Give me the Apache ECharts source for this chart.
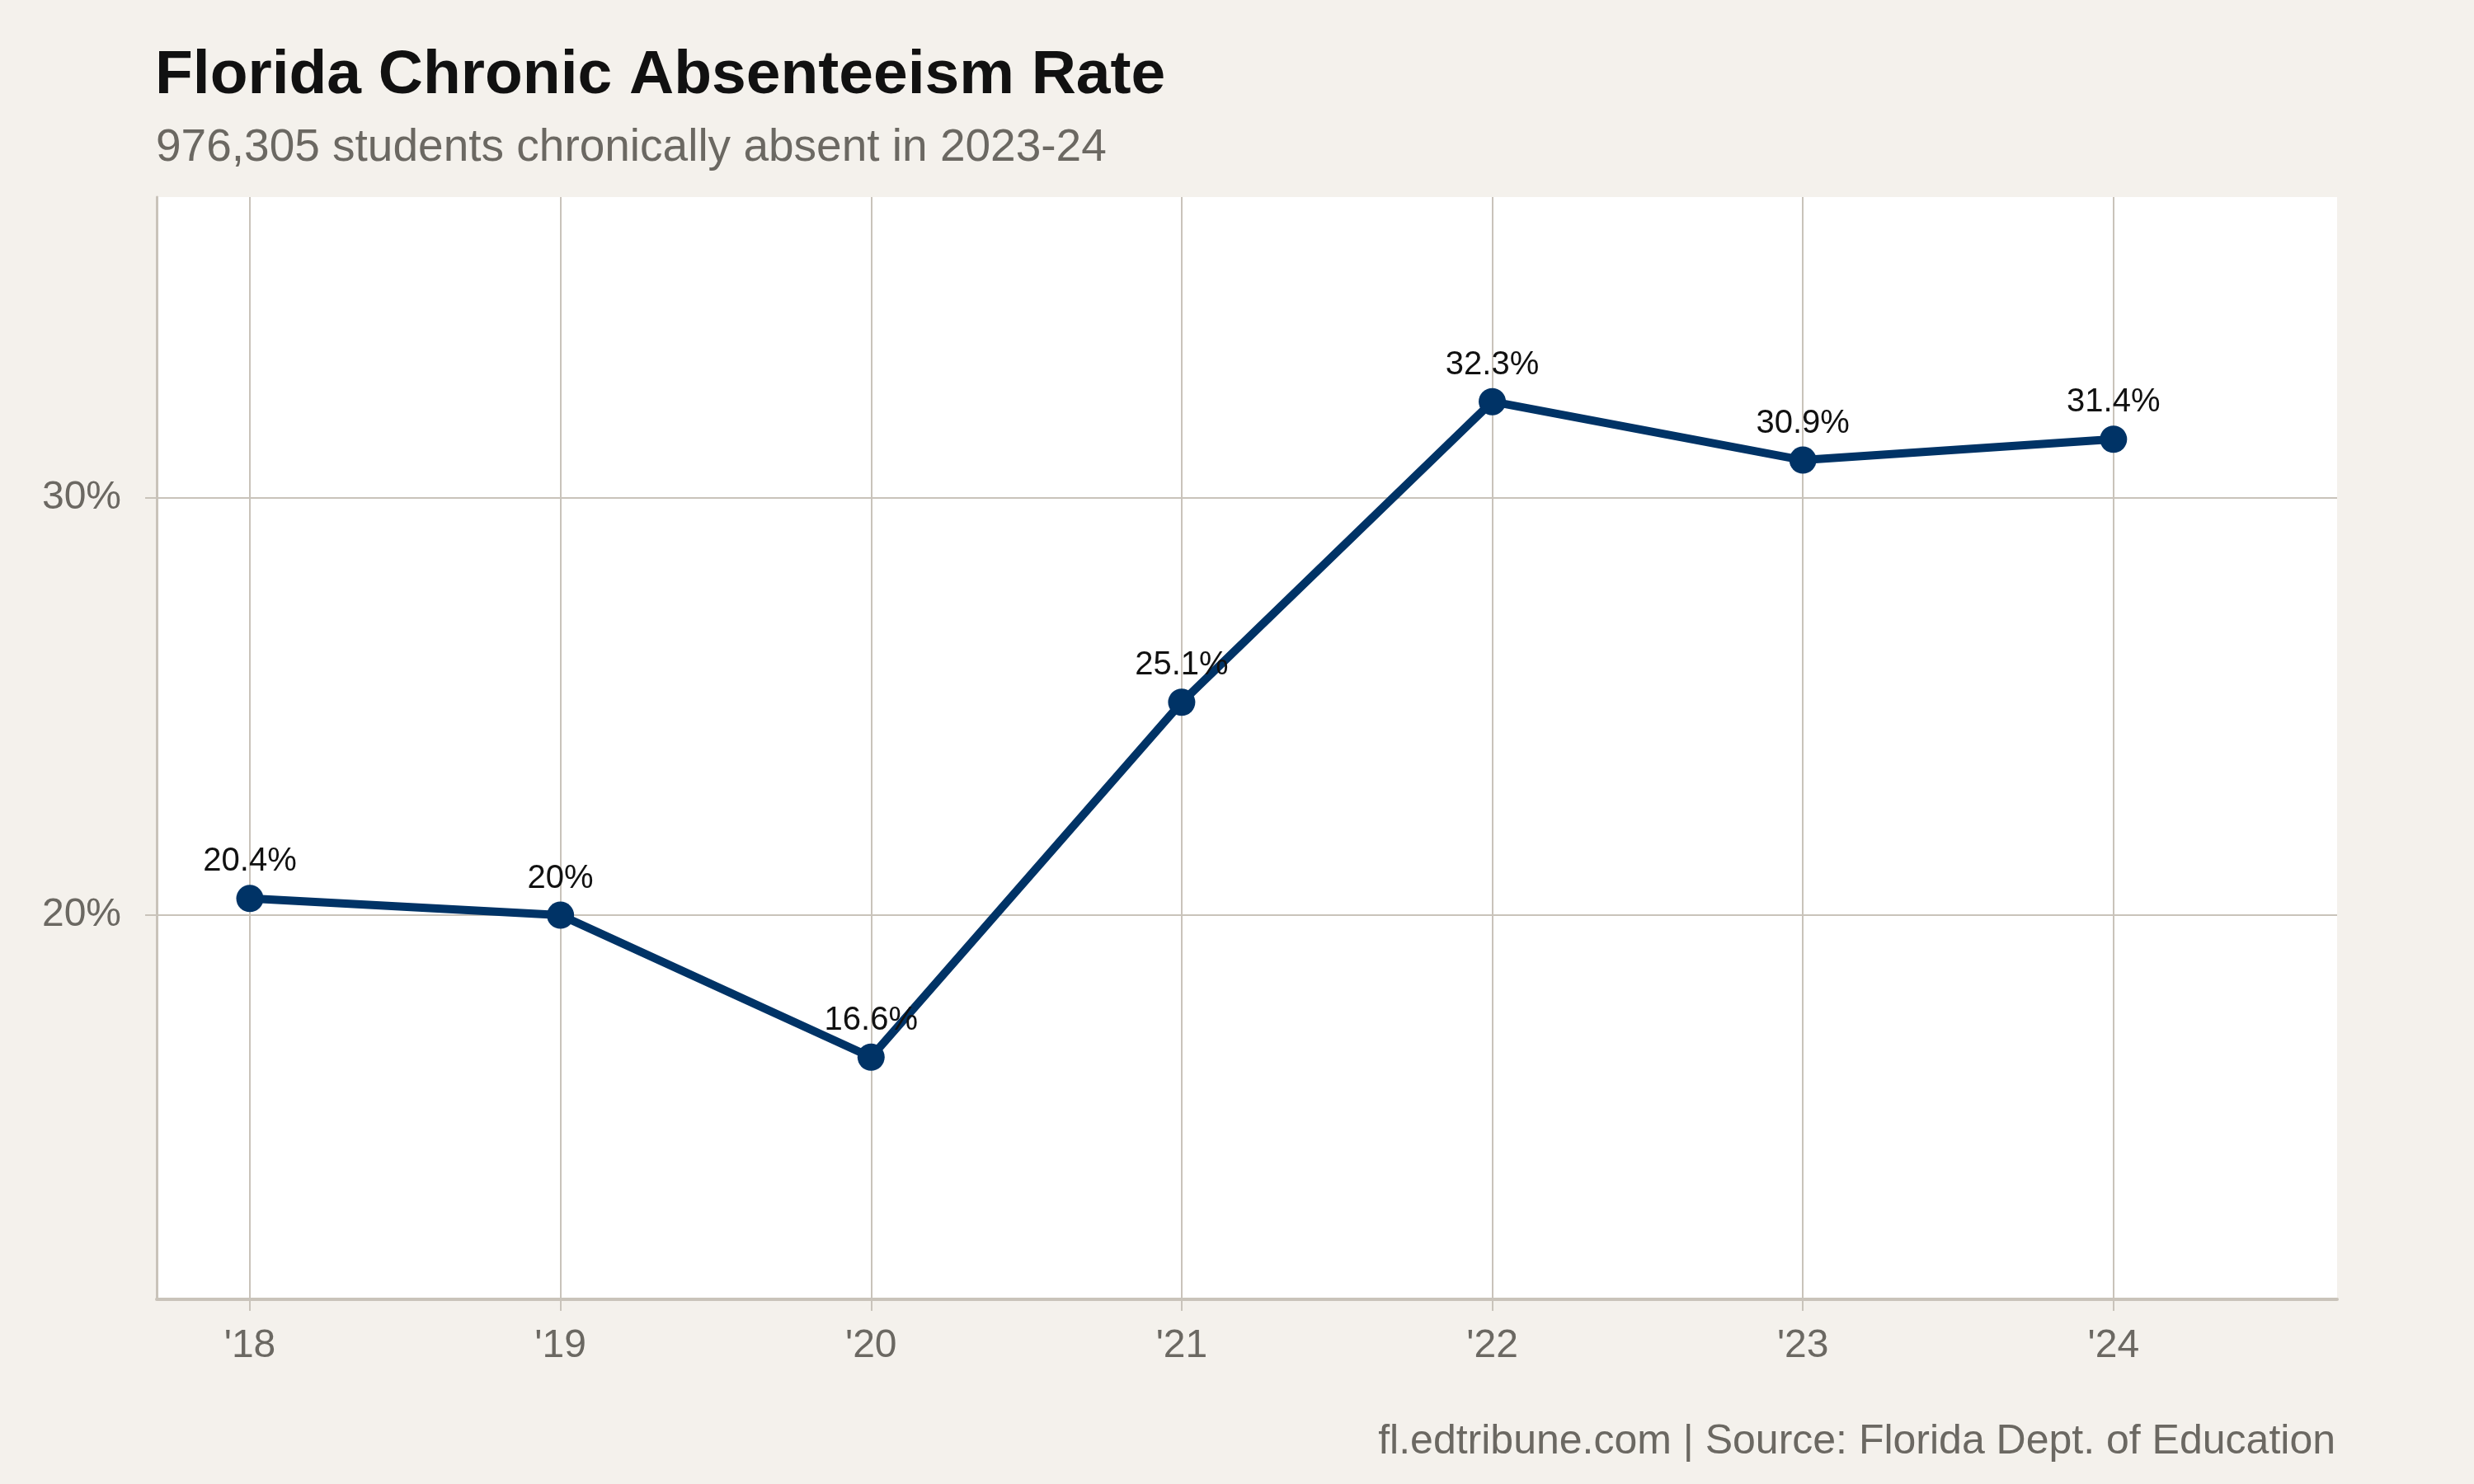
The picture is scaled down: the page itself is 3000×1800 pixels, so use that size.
<!DOCTYPE html>
<html>
<head>
<meta charset="utf-8">
<script src="https://cdn.jsdelivr.net/npm/echarts@6/dist/echarts.min.js"></script>
<style>
html,body{margin:0;padding:0;background:#f4f1ec;}
#c{width:3000px;height:1800px;}
</style>
</head>
<body>
<div id="c"></div>
<script>
const years = [2018, 2019, 2020, 2021, 2022, 2023, 2024];
const yearLabels = ["'18", "'19", "'20", "'21", "'22", "'23", "'24"];
const rates = [20.4, 20, 16.6, 25.1, 32.3, 30.9, 31.4];
const yTicks = [20, 30];
const titleText = 'Florida Chronic Absenteeism Rate';
const subtitleText = '976,305 students chronically absent in 2023-24';
const captionText = 'fl.edtribune.com | Source: Florida Dept. of Education';

const FONT = '"Liberation Sans", Arial, Helvetica, sans-serif';
const GRID = '#c9c3ba';
const GREY = '#6b6862';
const NAVY = '#003366';

const chart = echarts.init(document.getElementById('c'), null, {renderer: 'canvas'});
const data = years.map((y, i) => [y, rates[i]]);

chart.setOption({
  backgroundColor: '#f4f1ec',
  animation: false,
  title: [
    {text: titleText, left: 188, top: 55, padding: 0,
     textStyle: {fontFamily: FONT, fontSize: 75, fontWeight: 'bold', color: '#111111'}},
    {text: subtitleText, left: 189, top: 152, padding: 0,
     textStyle: {fontFamily: FONT, fontSize: 55, fontWeight: 'normal', color: GREY}},
    {text: captionText, right: 168, top: 1724, padding: 0,
     textStyle: {fontFamily: FONT, fontSize: 50, fontWeight: 'normal', color: GREY}}
  ],
  grid: {left: 190, right: 166, top: 239, bottom: 224, show: true,
         backgroundColor: '#ffffff', borderWidth: 0, containLabel: false},
  xAxis: {
    type: 'value', min: 2017.7, max: 2024.72,
    axisLine: {show: true, onZero: false, lineStyle: {color: GRID, width: 4}},
    axisTick: {show: true, customValues: years, length: 14, lineStyle: {color: GRID, width: 2}},
    axisLabel: {customValues: years, margin: 33, fontFamily: FONT, fontSize: 48, color: GREY,
                formatter: v => yearLabels[years.indexOf(Math.round(v))] || ''},
    splitLine: {show: true, lineStyle: {color: GRID, width: 2}}
  },
  yAxis: {
    type: 'value', min: 10.8, max: 37.2,
    axisLine: {show: true, onZero: false, lineStyle: {color: GRID, width: 3}},
    axisTick: {show: true, customValues: yTicks, length: 14, lineStyle: {color: GRID, width: 2}},
    axisLabel: {customValues: yTicks, margin: 43, fontFamily: FONT, fontSize: 48, color: GREY,
                formatter: v => v + '%'},
    splitLine: {show: true, lineStyle: {color: GRID, width: 2}}
  },
  series: [{
    type: 'line',
    data: data,
    symbol: 'circle',
    symbolSize: 33,
    lineStyle: {color: NAVY, width: 10},
    itemStyle: {color: NAVY},
    label: {show: true, position: 'top', distance: 8, fontFamily: FONT, fontSize: 40,
            color: '#111111', formatter: p => p.value[1] + '%'},
    z: 3
  }]
});
</script>
</body>
</html>
